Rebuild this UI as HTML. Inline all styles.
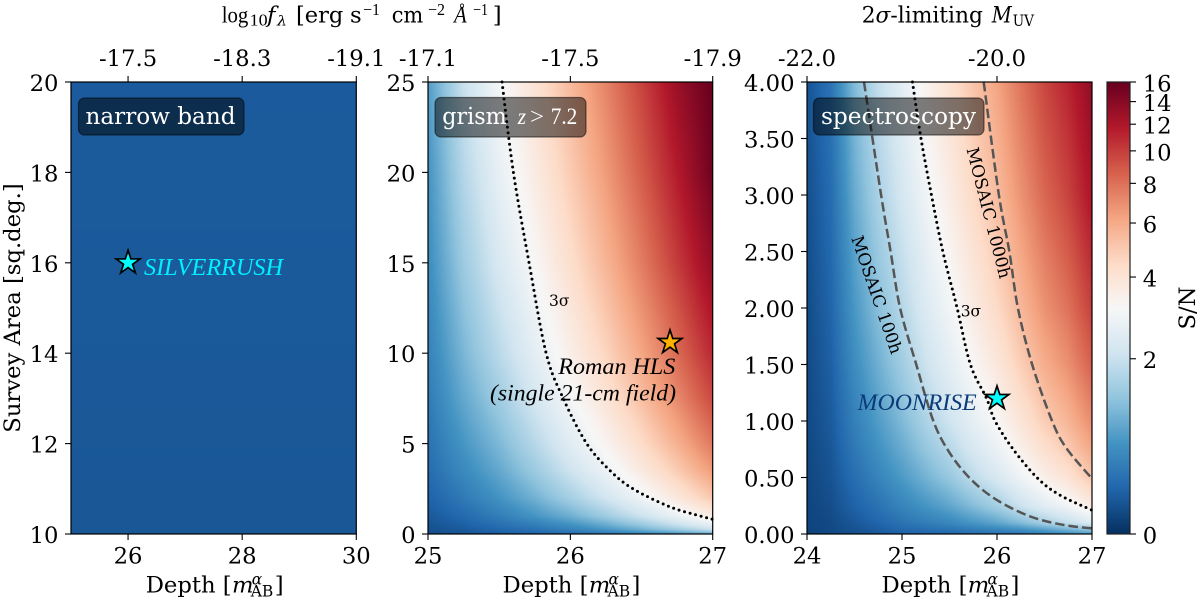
<!DOCTYPE html>
<html>
<head>
<meta charset="utf-8">
<title>S/N survey panels</title>
<style>
html,body{margin:0;padding:0;background:#fff;width:1200px;height:600px;overflow:hidden}
#stage{position:relative;width:1200px;height:600px}
canvas{position:absolute;display:block}
svg{position:absolute;left:0;top:0}
text{font-family:"DejaVu Serif","Liberation Serif",serif;fill:#000}
.ital{font-family:"Liberation Serif","DejaVu Serif",serif;font-style:italic}
.lib{font-family:"Liberation Serif","DejaVu Serif",serif}
.box{fill:#000;fill-opacity:.5;stroke:#000;stroke-opacity:.5;stroke-width:1.2}
text.boxt{fill:#fff;font-size:23px}
</style>
</head>
<body>
<div id="stage">
<canvas id="c-narrow" style="left:71px;top:82px" width="285" height="452"></canvas>
<canvas id="c-grism" style="left:428px;top:82px" width="285" height="452"></canvas>
<canvas id="c-spec" style="left:807px;top:82px" width="285" height="452"></canvas>
<canvas id="c-bar" style="left:1107px;top:82px" width="23" height="452"></canvas>
<svg id="s" width="1200" height="600" viewBox="0 0 1200 600" font-size="22.7">
  <g id="marks-narrow"></g>
  <g id="marks-grism"></g>
  <g id="marks-spec"></g>

  <rect class="box" x="78.5" y="98" width="165.5" height="37" rx="6"/>
  <text class="boxt" x="85.5" y="124" textLength="150" lengthAdjust="spacingAndGlyphs">narrow band</text>
  <rect class="box" x="435" y="97.5" width="151" height="39.5" rx="6"/>
  <g>
    <text class="boxt" x="442.3" y="124" textLength="64.4" lengthAdjust="spacingAndGlyphs">grism</text>
    <text class="boxt ital" x="517.7" y="124" textLength="8.3" lengthAdjust="spacingAndGlyphs">z</text>
    <text class="boxt lib" x="530" y="124" textLength="14" lengthAdjust="spacingAndGlyphs">&gt;</text>
    <text class="boxt lib" x="550.7" y="124" textLength="26.6" lengthAdjust="spacingAndGlyphs">7.2</text>
  </g>
  <rect class="box" x="813.5" y="98" width="170.5" height="37" rx="6"/>
  <text class="boxt" x="821" y="124" textLength="155" lengthAdjust="spacingAndGlyphs">spectroscopy</text>

  <text class="ital" x="144" y="275" font-size="24" style="fill:#00f0ff" textLength="139" lengthAdjust="spacingAndGlyphs">SILVERRUSH</text>
  <text class="ital" x="558.3" y="374" font-size="23" textLength="117" lengthAdjust="spacingAndGlyphs">Roman HLS</text>
  <text class="ital" x="490" y="400.7" font-size="23" textLength="186" lengthAdjust="spacingAndGlyphs">(single 21-cm field)</text>
  <text class="ital" x="857.7" y="410" font-size="23" style="fill:#0b3a78" textLength="119" lengthAdjust="spacingAndGlyphs">MOONRISE</text>

  <text x="549" y="306" font-size="15.5">3σ</text>
  <text x="960.7" y="316.7" font-size="15.5">3σ</text>
  <text transform="translate(988 213) rotate(75.6)" text-anchor="middle" dominant-baseline="central" font-size="17">MOSAIC 1000h</text>
  <text transform="translate(876 295) rotate(71)" text-anchor="middle" dominant-baseline="central" font-size="17">MOSAIC 100h</text>

  <g id="axes"></g>

  <g>
    <text class="lib" x="221.7" y="22.7" font-size="23" textLength="26.6" lengthAdjust="spacingAndGlyphs">log</text>
    <text class="lib" x="249.7" y="25.5" font-size="17" textLength="18" lengthAdjust="spacingAndGlyphs">10</text>
    <text x="267" y="22.7" font-style="italic">f</text>
    <text x="277" y="25.5" font-size="14" font-style="italic" textLength="10" lengthAdjust="spacingAndGlyphs">λ</text>
    <text x="296" y="22.7" textLength="47.3" lengthAdjust="spacingAndGlyphs">[erg</text>
    <text x="350" y="22.7" textLength="11.7" lengthAdjust="spacingAndGlyphs">s</text>
    <text class="lib" x="363" y="15" font-size="17" textLength="17" lengthAdjust="spacingAndGlyphs">−1</text>
    <text x="391.7" y="22.7" textLength="31.6" lengthAdjust="spacingAndGlyphs">cm</text>
    <text class="lib" x="428" y="15" font-size="17" textLength="17" lengthAdjust="spacingAndGlyphs">−2</text>
    <text class="ital" x="454" y="22.7" textLength="12.7" lengthAdjust="spacingAndGlyphs">Å</text>
    <text class="lib" x="473" y="15" font-size="17" textLength="15" lengthAdjust="spacingAndGlyphs">−1</text>
    <text x="492.7" y="22.7">]</text>
  </g>
  <g>
    <text x="861.7" y="22.7" textLength="121.3" lengthAdjust="spacingAndGlyphs">2<tspan font-style="italic">σ</tspan>-limiting</text>
    <text x="991.7" y="22.7" font-style="italic" textLength="20" lengthAdjust="spacingAndGlyphs">M</text>
    <text x="1012.7" y="26.2" font-size="15.5" textLength="21.3" lengthAdjust="spacingAndGlyphs">UV</text>
  </g>

  <text transform="translate(20 308) rotate(-90)" text-anchor="middle">Survey Area [sq.deg.]</text>
  <text transform="translate(1195 308) rotate(-90)" text-anchor="middle">S/N</text>

  <g id="depth-narrow" transform="translate(145.7 592.7)">
    <text x="0" y="0">Depth [</text><text x="86.3" y="0" font-style="italic">m</text><text x="106" y="-8" font-size="15.5" font-style="italic">α</text><text x="105" y="4" font-size="15.5">AB</text><text x="129" y="0">]</text>
  </g>
  <g id="depth-grism" transform="translate(502.5 592.7)">
    <text x="0" y="0">Depth [</text><text x="86.3" y="0" font-style="italic">m</text><text x="106" y="-8" font-size="15.5" font-style="italic">α</text><text x="105" y="4" font-size="15.5">AB</text><text x="129" y="0">]</text>
  </g>
  <g id="depth-spec" transform="translate(881.5 592.7)">
    <text x="0" y="0">Depth [</text><text x="86.3" y="0" font-style="italic">m</text><text x="106" y="-8" font-size="15.5" font-style="italic">α</text><text x="105" y="4" font-size="15.5">AB</text><text x="129" y="0">]</text>
  </g>
</svg>
</div>
<script>
// ---------- data ----------
const colorbarTicks = [0, 2, 4, 6, 8, 10, 12, 14, 16];

const narrowDepths = [25, 30];
const narrowAreas = [10, 15, 20];
const narrowSN = [
  [0.31, 0.31],
  [0.33, 0.33],
  [0.34, 0.34]
];

const grismDepths = [25, 25.25, 25.5, 25.75, 26, 26.25, 26.5, 26.75, 27];
const grismAreas = [0, 0.25, 0.5, 1, 2, 3.5, 5, 7.5, 10, 15, 20, 25];
const grismSN = [
  [0.24, 0.29, 0.35, 0.42, 0.50, 0.60, 0.75, 0.90, 1.10],
  [0.26, 0.34, 0.45, 0.56, 0.72, 0.93, 1.20, 1.55, 2.00],
  [0.28, 0.39, 0.53, 0.68, 0.88, 1.15, 1.50, 1.98, 2.60],
  [0.33, 0.48, 0.68, 0.92, 1.20, 1.57, 2.06, 2.75, 3.65],
  [0.41, 0.64, 0.90, 1.22, 1.63, 2.15, 2.85, 3.80, 5.00],
  [0.50, 0.80, 1.12, 1.54, 2.08, 2.77, 3.70, 4.90, 6.50],
  [0.56, 0.93, 1.30, 1.80, 2.46, 3.28, 4.37, 5.80, 7.75],
  [0.65, 1.12, 1.58, 2.20, 3.00, 4.00, 5.34, 7.10, 9.50],
  [0.72, 1.28, 1.84, 2.55, 3.47, 4.62, 6.17, 8.20, 10.95],
  [0.83, 1.55, 2.28, 3.12, 4.24, 5.65, 7.55, 10.07, 13.40],
  [0.90, 1.78, 2.65, 3.62, 4.90, 6.53, 8.72, 11.60, 15.50],
  [1.00, 2.00, 3.00, 4.05, 5.48, 7.30, 9.75, 13.00, 16.00]
];

const specDepths = [24, 24.25, 24.5, 24.75, 25, 25.25, 25.5, 25.75, 26, 26.25, 26.5, 26.75, 27];
const specAreas = [0, 0.1, 0.25, 0.5, 0.75, 1, 1.5, 2, 3, 4];
const specSN = [
  [0.15, 0.20, 0.25, 0.32, 0.40, 0.42, 0.45, 0.50, 0.55, 0.60, 0.70, 0.85, 1.00],
  [0.16, 0.21, 0.32, 0.44, 0.57, 0.68, 0.78, 0.94, 1.10, 1.34, 1.65, 1.96, 2.40],
  [0.17, 0.24, 0.41, 0.57, 0.75, 0.92, 1.10, 1.35, 1.63, 2.04, 2.50, 2.93, 3.64],
  [0.18, 0.28, 0.52, 0.74, 0.97, 1.23, 1.50, 1.87, 2.26, 2.83, 3.46, 4.05, 5.05],
  [0.19, 0.31, 0.62, 0.88, 1.15, 1.47, 1.80, 2.26, 2.73, 3.43, 4.20, 4.93, 6.10],
  [0.20, 0.34, 0.70, 1.00, 1.31, 1.70, 2.10, 2.60, 3.15, 3.95, 4.85, 5.66, 7.00],
  [0.21, 0.39, 0.83, 1.20, 1.58, 2.05, 2.55, 3.15, 3.82, 4.80, 5.90, 6.90, 8.60],
  [0.22, 0.43, 0.95, 1.38, 1.80, 2.36, 2.92, 3.63, 4.42, 5.55, 6.80, 7.95, 9.90],
  [0.25, 0.50, 1.15, 1.68, 2.20, 2.88, 3.57, 4.44, 5.40, 6.77, 8.35, 9.75, 12.10],
  [0.28, 0.57, 1.33, 1.93, 2.53, 3.33, 4.13, 5.13, 6.22, 7.82, 9.62, 11.20, 13.50]
];

const grism3SigmaDepth = [25.52, 25.6, 25.71, 25.83, 25.95, 26.115, 26.28, 26.44, 26.7, 26.91, 27];
const grism3SigmaArea = [25, 20, 15, 10, 7.5, 5, 3.5, 2.5, 1.5, 1, 0.81];

const spec3SigmaDepth = [25.11, 25.2, 25.31, 25.43, 25.58, 25.72, 25.89, 25.98, 26.17, 26.42, 26.65, 27];
const spec3SigmaArea = [4, 3.5, 3, 2.5, 2, 1.5, 1.2, 1, 0.75, 0.5, 0.35, 0.21];

const mosaic100Depth = [24.6, 24.78, 24.88, 24.98, 25.15, 25.33, 25.5, 25.73, 26.0, 26.35, 26.7, 27];
const mosaic100Area = [4, 3, 2.5, 2, 1.5, 1, 0.72, 0.48, 0.3, 0.155, 0.08, 0.05];

const mosaic1000Depth = [25.86, 26.02, 26.13, 26.22, 26.37, 26.58, 26.73, 27];
const mosaic1000Area = [4, 3, 2.5, 2, 1.5, 1, 0.76, 0.49];

const narrowXTicks = [26, 28, 30];
const narrowYTicks = ["10", "12", "14", "16", "18", "20"];
const narrowTopTicks = ["-17.5", "-18.3", "-19.1"];
const grismXTicks = [25, 26, 27];
const grismYTicks = ["0", "5", "10", "15", "20", "25"];
const grismTopTicks = ["-17.1", "-17.5", "-17.9"];
const specXTicks = [24, 25, 26, 27];
const specYTicks = ["0.00", "0.50", "1.00", "1.50", "2.00", "2.50", "3.00", "3.50", "4.00"];
const specTopTickDepths = [24, 26];
const specTopTicks = ["-22.0", "-20.0"];

const silverrushPoint = [26, 16];
const romanPoint = [26.7, 10.6];
const moonrisePoint = [26, 1.2];

// ---------- colour and norm ----------
const rdbuStops = ["#053061","#2166ac","#4393c3","#92c5de","#d1e5f0","#f7f7f7","#fddbc7","#f4a582","#d6604d","#b2182b","#67001f"];
const rgbStops = rdbuStops.map(h => [parseInt(h.slice(1,3),16), parseInt(h.slice(3,5),16), parseInt(h.slice(5,7),16)]);
const NORM_A = 1.5;
const NORM_MAX = Math.asinh(16 / NORM_A);
function normLift(v) {
  if (v <= 0 || v >= 8) return 0;
  if (v < 2) return 0.0145 * v;
  if (v < 4) return 0.029 - 0.009 * (v - 2);
  if (v < 6) return 0.011 - 0.0035 * (v - 4);
  return 0.004 - 0.002 * (v - 6);
}
function norm(v) {
  return Math.min(1, Math.max(0, Math.asinh(v / NORM_A) / NORM_MAX + normLift(v)));
}
function cmap(t) {
  const p = Math.min(9.9999, t * 10), i = Math.floor(p), f = p - i;
  const a = rgbStops[i], b = rgbStops[i + 1];
  return [a[0] + (b[0] - a[0]) * f, a[1] + (b[1] - a[1]) * f, a[2] + (b[2] - a[2]) * f];
}
function locate(arr, v) {
  let i = 0;
  while (i < arr.length - 2 && v > arr[i + 1]) i++;
  const f = (v - arr[i]) / (arr[i + 1] - arr[i]);
  return [i, Math.min(1, Math.max(0, f))];
}

// ---------- panels ----------
const NS = "http://www.w3.org/2000/svg";
function makePanel(canvasId, marksId, L, R, dMin, dMax, aMin, aMax) {
  const T = 82, B = 534;
  return {
    canvasId, marks: document.getElementById(marksId), L, R, T, B,
    x: d => L + (d - dMin) / (dMax - dMin) * (R - L),
    y: a => B - (a - aMin) / (aMax - aMin) * (B - T),
    dAt: px => dMin + (px + 0.5) / (R - L) * (dMax - dMin),
    aAt: py => aMax - (py + 0.5) / (B - T) * (aMax - aMin)
  };
}
const pNarrow = makePanel("c-narrow", "marks-narrow", 71, 356.3, 25, 30, 10, 20);
const pGrism = makePanel("c-grism", "marks-grism", 428, 712.7, 25, 27, 0, 25);
const pSpec = makePanel("c-spec", "marks-spec", 807, 1092, 24, 27, 0, 4);

function drawHeat(p, depths, areas, values) {
  const c = document.getElementById(p.canvasId), g = c.getContext("2d");
  const w = c.width, h = c.height, im = g.createImageData(w, h);
  const tv = values.map(r => r.map(norm));
  for (let py = 0; py < h; py++) {
    const [ri, rf] = locate(areas, p.aAt(py));
    for (let px = 0; px < w; px++) {
      const [ci, cf] = locate(depths, p.dAt(px));
      const t = (tv[ri][ci] * (1 - cf) + tv[ri][ci + 1] * cf) * (1 - rf) +
                (tv[ri + 1][ci] * (1 - cf) + tv[ri + 1][ci + 1] * cf) * rf;
      const col = cmap(t), k = (py * w + px) * 4;
      im.data[k] = col[0]; im.data[k + 1] = col[1]; im.data[k + 2] = col[2]; im.data[k + 3] = 255;
    }
  }
  g.putImageData(im, 0, 0);
}
drawHeat(pNarrow, narrowDepths, narrowAreas, narrowSN);
drawHeat(pGrism, grismDepths, grismAreas, grismSN);
drawHeat(pSpec, specDepths, specAreas, specSN);

// colorbar gradient
(function () {
  const c = document.getElementById("c-bar"), g = c.getContext("2d");
  for (let py = 0; py < c.height; py++) {
    const col = cmap(1 - (py + 0.5) / c.height);
    g.fillStyle = "rgb(" + col.map(Math.round).join(",") + ")";
    g.fillRect(0, py, c.width, 1);
  }
})();

// smooth path through read points
function smoothPath(p, ds, as) {
  const pts = ds.map((d, i) => [p.x(d), p.y(as[i])]);
  let s = "M" + pts[0][0] + " " + pts[0][1];
  for (let i = 0; i < pts.length - 1; i++) {
    const a = pts[Math.max(0, i - 1)], b = pts[i], c = pts[i + 1], d = pts[Math.min(pts.length - 1, i + 2)];
    s += " C" + (b[0] + (c[0] - a[0]) / 6) + " " + (b[1] + (c[1] - a[1]) / 6) + " " +
         (c[0] - (d[0] - b[0]) / 6) + " " + (c[1] - (d[1] - b[1]) / 6) + " " + c[0] + " " + c[1];
  }
  return s;
}
function dottedContour(p, ds, as) {
  const el = document.createElementNS(NS, "path");
  el.setAttribute("d", smoothPath(p, ds, as));
  el.setAttribute("fill", "none");
  el.setAttribute("stroke", "#000");
  el.setAttribute("stroke-width", "3");
  el.setAttribute("stroke-linecap", "round");
  el.setAttribute("stroke-dasharray", "0 5.7");
  
  
  p.marks.appendChild(el);
}
function dashedContour(p, ds, as) {
  const el = document.createElementNS(NS, "path");
  el.setAttribute("d", smoothPath(p, ds, as));
  el.setAttribute("fill", "none");
  el.setAttribute("stroke", "#555");
  el.setAttribute("stroke-width", "2.5");
  el.setAttribute("stroke-dasharray", "9.5 4");
  
  
  p.marks.appendChild(el);
}
dottedContour(pGrism, grism3SigmaDepth, grism3SigmaArea);
dottedContour(pSpec, spec3SigmaDepth, spec3SigmaArea);
dashedContour(pSpec, mosaic100Depth, mosaic100Area);
dashedContour(pSpec, mosaic1000Depth, mosaic1000Area);

// axes and ticks
const axesGroup = document.getElementById("axes");
function line(x1, y1, x2, y2) {
  const el = document.createElementNS(NS, "line");
  el.setAttribute("x1", x1); el.setAttribute("y1", y1);
  el.setAttribute("x2", x2); el.setAttribute("y2", y2);
  el.setAttribute("stroke", "#000");
  el.setAttribute("stroke-width", "1.1");
  return el;
}
function label(x, y, str, anchor) {
  const el = document.createElementNS(NS, "text");
  el.setAttribute("x", x); el.setAttribute("y", y);
  el.setAttribute("text-anchor", anchor);
  el.textContent = str;
  return el;
}
function drawAxes(p, xTicks, yTicks, topDepths, topLabels) {
  const frame = document.createElementNS(NS, "rect");
  frame.setAttribute("x", p.L); frame.setAttribute("y", p.T);
  frame.setAttribute("width", p.R - p.L); frame.setAttribute("height", p.B - p.T);
  frame.setAttribute("fill", "none");
  frame.setAttribute("stroke", "#000");
  frame.setAttribute("stroke-width", "1.2");
  
  
  axesGroup.appendChild(frame);

  xTicks.forEach(d => {
    const t = line(p.x(d), p.B, p.x(d), p.B + 6);
    
    
    axesGroup.appendChild(t);
    const l = label(p.x(d), 563.3, String(d), "middle");
    
    
    axesGroup.appendChild(l);
  });
  yTicks.forEach(s => {
    const a = Number(s);
    const t = line(p.L - 6, p.y(a), p.L, p.y(a));
    
    
    axesGroup.appendChild(t);
    const l = label(p.L - 12.5, p.y(a) + 9, s, "end");
    
    
    axesGroup.appendChild(l);
  });
  topDepths.forEach((d, i) => {
    const t = line(p.x(d), p.T - 6, p.x(d), p.T);
    
    
    axesGroup.appendChild(t);
    const l = label(p.x(d), 66, topLabels[i], "middle");
    
    
    axesGroup.appendChild(l);
  });
}
drawAxes(pNarrow, narrowXTicks, narrowYTicks, narrowXTicks, narrowTopTicks);
drawAxes(pGrism, grismXTicks, grismYTicks, grismXTicks, grismTopTicks);
drawAxes(pSpec, specXTicks, specYTicks, specTopTickDepths, specTopTicks);

// stars
function starPath(cx, cy, R) {
  let s = "";
  for (let i = 0; i < 10; i++) {
    const r = i % 2 ? R * 0.382 : R, an = -Math.PI / 2 + i * Math.PI / 5;
    s += (i ? "L" : "M") + (cx + r * Math.cos(an)) + " " + (cy + r * Math.sin(an));
  }
  return s + "Z";
}
function drawStar(p, pt, fill) {
  const el = document.createElementNS(NS, "path");
  el.setAttribute("d", starPath(p.x(pt[0]), p.y(pt[1]), 12.5));
  el.setAttribute("fill", fill);
  el.setAttribute("stroke", "#000");
  el.setAttribute("stroke-width", "1.7");
  
  
  document.getElementById("s").appendChild(el);
}
drawStar(pNarrow, silverrushPoint, "#00ffff");
drawStar(pGrism, romanPoint, "#ffb000");
drawStar(pSpec, moonrisePoint, "#00ffff");

// colorbar axis
(function () {
  const cL = 1107, cR = 1130, T = 82, B = 534;
  const frame = document.createElementNS(NS, "rect");
  frame.setAttribute("x", cL); frame.setAttribute("y", T);
  frame.setAttribute("width", cR - cL); frame.setAttribute("height", B - T);
  frame.setAttribute("fill", "none");
  frame.setAttribute("stroke", "#222");
  frame.setAttribute("stroke-width", "1.2");
  
  
  axesGroup.appendChild(frame);
  colorbarTicks.forEach(v => {
    const y = B - norm(v) * (B - T);
    const t = line(cR, y, cR + 6, y);
    
    
    axesGroup.appendChild(t);
    const l = label(1142.7, y + 9.5, String(v), "start");
    
    
    axesGroup.appendChild(l);
  });
})();
</script>
</body>
</html>
